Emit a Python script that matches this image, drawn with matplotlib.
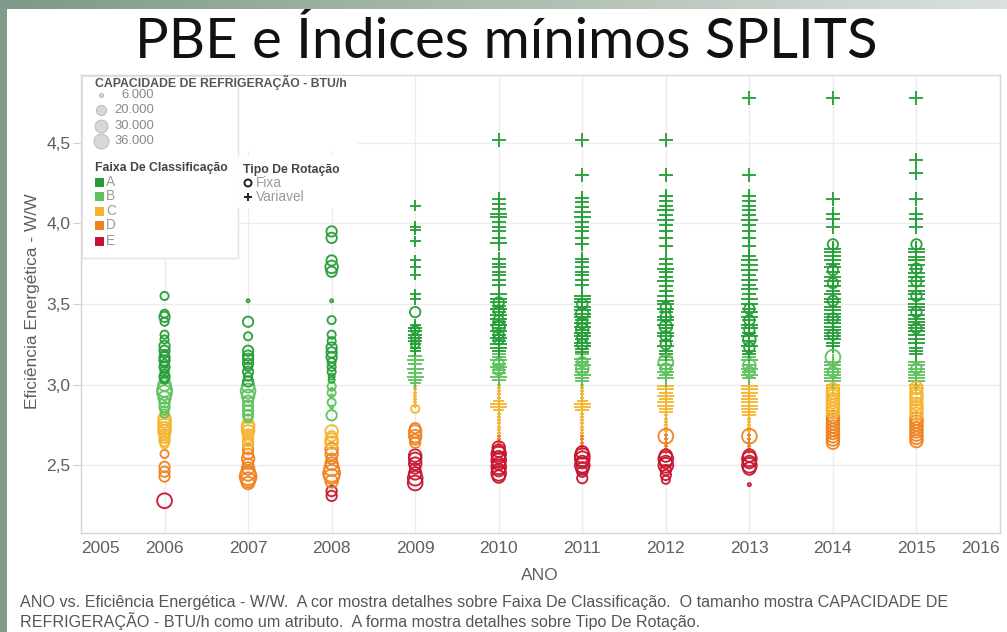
import numpy as np
import matplotlib
matplotlib.use("Agg")
import matplotlib.pyplot as plt
from matplotlib.patches import Rectangle

W, H = 1007, 632

# ---------------- data ----------------
TITLE = "PBE e Índices mínimos SPLITS"
X_TICKS = list(range(2005, 2017))
Y_TICKS = [2.5, 3.0, 3.5, 4.0, 4.5]
Y_TICK_LABELS = ["2,5", "3,0", "3,5", "4,0", "4,5"]
FAIXAS = ["A", "B", "C", "D", "E"]
CAP_LEGEND = [6000, 20000, 30000, 36000]
CAP_LEGEND_LABELS = ["6.000", "20.000", "30.000", "36.000"]

# Fixa (circles): year -> [(efficiency W/W, capacity BTU/h), ...]
FIXA_A = {
    2006: [(3.55, 18000), (3.44, 18000), (3.42, 24000), (3.39, 18000), (3.31, 18000), (3.28, 18000),
           (3.24, 24000), (3.21, 24000), (3.19, 18000), (3.17, 24000), (3.15, 24000), (3.13, 18000),
           (3.11, 24000), (3.09, 18000), (3.07, 18000), (3.05, 24000), (3.03, 18000)],
    2007: [(3.52, 4000), (3.39, 24000), (3.30, 18000), (3.21, 24000), (3.18, 24000), (3.16, 24000),
           (3.13, 24000), (3.11, 18000), (3.08, 24000), (3.05, 18000), (3.02, 24000)],
    2008: [(3.95, 24000), (3.91, 24000), (3.77, 24000), (3.73, 30000), (3.70, 24000), (3.52, 4000),
           (3.40, 18000), (3.31, 18000), (3.27, 18000), (3.23, 24000), (3.20, 24000), (3.17, 24000),
           (3.14, 18000), (3.11, 18000), (3.08, 18000), (3.05, 12000), (3.03, 12000)],
    2009: [(3.45, 24000), (3.34, 18000), (3.29, 18000), (3.25, 18000)],
    2010: [(3.51, 24000), (3.46, 24000), (3.40, 24000), (3.36, 30000), (3.31, 24000), (3.28, 24000)],
    2011: [(3.50, 24000), (3.44, 30000), (3.38, 24000), (3.34, 30000), (3.29, 24000), (3.25, 24000)],
    2012: [(3.48, 24000), (3.42, 24000), (3.36, 30000), (3.30, 24000), (3.25, 24000)],
    2013: [(3.47, 24000), (3.40, 24000), (3.34, 24000), (3.28, 30000), (3.23, 24000)],
    2014: [(3.87, 24000), (3.71, 24000), (3.63, 24000), (3.52, 24000), (3.41, 24000), (3.31, 24000)],
    2015: [(3.87, 24000), (3.72, 24000), (3.64, 24000), (3.55, 24000), (3.45, 24000), (3.35, 24000)],
}
FIXA_B = {
    2006: [(3.00, 30000), (2.97, 36000), (2.95, 36000), (2.92, 30000), (2.89, 24000), (2.86, 24000),
           (2.84, 18000), (2.82, 18000)],
    2007: [(2.99, 30000), (2.96, 36000), (2.93, 30000), (2.90, 24000), (2.87, 24000), (2.84, 24000),
           (2.81, 24000), (2.79, 18000)],
    2008: [(2.99, 18000), (2.97, 4000), (2.95, 18000), (2.93, 4000), (2.89, 18000), (2.86, 4000),
           (2.81, 24000)],
    2010: [(3.13, 24000), (3.09, 24000)],
    2011: [(3.14, 24000), (3.10, 30000)],
    2012: [(3.14, 36000), (3.10, 24000)],
    2013: [(3.12, 30000), (3.08, 24000)],
    2014: [(3.17, 36000), (3.08, 24000)],
    2015: [(3.10, 24000)],
}
FIXA_C = {
    2006: [(2.79, 30000), (2.77, 30000), (2.75, 30000), (2.73, 30000), (2.71, 30000), (2.69, 24000),
           (2.67, 24000), (2.65, 24000), (2.63, 18000)],
    2007: [(2.75, 30000), (2.73, 30000), (2.71, 30000), (2.69, 24000), (2.67, 24000), (2.65, 24000),
           (2.63, 24000)],
    2008: [(2.71, 30000), (2.68, 24000), (2.66, 30000), (2.64, 30000)],
    2009: [(2.85, 18000)],
    2014: [(2.97, 30000), (2.95, 30000), (2.93, 30000), (2.91, 30000), (2.89, 30000), (2.87, 30000),
           (2.85, 30000), (2.83, 30000)],
    2015: [(2.98, 30000), (2.95, 30000), (2.93, 30000), (2.91, 30000), (2.88, 30000), (2.86, 30000),
           (2.84, 30000), (2.82, 30000)],
}
FIXA_D = {
    2006: [(2.57, 18000), (2.49, 24000), (2.46, 24000), (2.43, 24000)],
    2007: [(2.60, 24000), (2.57, 24000), (2.54, 30000), (2.51, 24000), (2.48, 30000), (2.45, 36000),
           (2.43, 42000), (2.41, 36000), (2.39, 30000)],
    2008: [(2.60, 30000), (2.57, 30000), (2.54, 24000), (2.51, 30000), (2.48, 36000), (2.45, 42000),
           (2.43, 36000), (2.40, 30000)],
    2009: [(2.73, 24000), (2.71, 30000), (2.68, 30000), (2.66, 24000), (2.64, 24000)],
    2012: [(2.68, 36000)],
    2013: [(2.68, 36000)],
    2014: [(2.80, 30000), (2.78, 30000), (2.76, 30000), (2.74, 30000), (2.72, 30000), (2.70, 30000),
           (2.68, 30000), (2.66, 30000), (2.64, 30000)],
    2015: [(2.79, 30000), (2.77, 30000), (2.75, 30000), (2.73, 30000), (2.71, 30000), (2.69, 30000),
           (2.67, 30000), (2.65, 30000)],
}
FIXA_E = {
    2006: [(2.28, 36000)],
    2008: [(2.34, 24000), (2.31, 24000)],
    2009: [(2.56, 30000), (2.54, 30000), (2.51, 30000), (2.48, 24000), (2.45, 30000), (2.42, 36000),
           (2.39, 36000)],
    2010: [(2.61, 30000), (2.59, 30000), (2.57, 36000), (2.55, 30000), (2.53, 36000), (2.51, 30000),
           (2.49, 36000), (2.47, 30000), (2.45, 36000), (2.43, 30000)],
    2011: [(2.58, 30000), (2.56, 36000), (2.54, 36000), (2.52, 30000), (2.50, 36000), (2.48, 30000),
           (2.46, 24000), (2.42, 24000)],
    2012: [(2.56, 30000), (2.54, 36000), (2.52, 30000), (2.50, 36000), (2.47, 24000), (2.44, 24000),
           (2.41, 18000)],
    2013: [(2.56, 30000), (2.54, 36000), (2.52, 30000), (2.50, 36000), (2.48, 30000), (2.38, 4000)],
}

# Variavel (plus): year -> [(efficiency W/W, capacity BTU/h), ...]
VAR_A = {
    2009: [(4.11, 18000), (3.98, 18000), (3.96, 18000), (3.89, 18000), (3.77, 18000), (3.73, 18000),
           (3.68, 18000), (3.56, 18000), (3.53, 18000), (3.37, 18000), (3.35, 24000), (3.33, 24000),
           (3.31, 24000), (3.29, 24000), (3.27, 24000), (3.25, 18000), (3.23, 18000), (3.21, 18000)],
    2010: [(4.52, 24000), (4.15, 24000), (4.12, 24000), (4.09, 24000), (4.06, 30000), (4.04, 30000),
           (4.01, 24000), (3.98, 24000), (3.95, 24000), (3.91, 24000), (3.88, 30000), (3.78, 24000),
           (3.75, 24000), (3.73, 24000), (3.70, 24000), (3.68, 24000), (3.65, 24000), (3.62, 24000),
           (3.56, 30000), (3.53, 30000), (3.51, 30000), (3.49, 24000), (3.47, 30000), (3.45, 24000),
           (3.43, 30000), (3.41, 30000), (3.39, 24000), (3.37, 30000), (3.35, 24000), (3.33, 30000),
           (3.31, 24000), (3.29, 30000), (3.27, 24000), (3.25, 30000), (3.23, 30000), (3.21, 24000)],
    2011: [(4.52, 24000), (4.30, 24000), (4.16, 24000), (4.13, 24000), (4.10, 24000), (4.07, 30000),
           (4.04, 30000), (4.01, 24000), (3.98, 24000), (3.95, 24000), (3.91, 24000), (3.87, 24000),
           (3.78, 24000), (3.76, 24000), (3.73, 24000), (3.70, 24000), (3.68, 24000), (3.65, 24000),
           (3.62, 24000), (3.55, 30000), (3.53, 30000), (3.51, 30000), (3.48, 30000), (3.46, 30000),
           (3.44, 30000), (3.42, 30000), (3.40, 24000), (3.38, 30000), (3.36, 30000), (3.34, 24000),
           (3.32, 30000), (3.30, 30000), (3.28, 24000), (3.26, 30000), (3.24, 30000), (3.22, 24000),
           (3.20, 24000)],
    2012: [(4.52, 24000), (4.30, 24000), (4.17, 24000), (4.14, 24000), (4.11, 24000), (4.08, 30000),
           (4.05, 24000), (4.02, 30000), (3.99, 24000), (3.95, 24000), (3.91, 24000), (3.86, 24000),
           (3.78, 24000), (3.75, 24000), (3.72, 30000), (3.70, 24000), (3.67, 24000), (3.64, 30000),
           (3.61, 24000), (3.58, 24000), (3.55, 30000), (3.52, 30000), (3.50, 30000), (3.47, 30000),
           (3.45, 24000), (3.42, 30000), (3.40, 30000), (3.37, 30000), (3.35, 24000), (3.32, 30000),
           (3.30, 30000), (3.27, 24000), (3.24, 30000), (3.21, 24000), (3.19, 24000)],
    2013: [(4.78, 24000), (4.30, 24000), (4.17, 24000), (4.14, 24000), (4.11, 24000), (4.08, 24000),
           (4.05, 24000), (4.02, 30000), (3.99, 24000), (3.95, 24000), (3.91, 24000), (3.86, 24000),
           (3.80, 24000), (3.77, 30000), (3.74, 30000), (3.71, 30000), (3.68, 24000), (3.65, 30000),
           (3.62, 24000), (3.59, 30000), (3.56, 24000), (3.53, 30000), (3.50, 30000), (3.47, 24000),
           (3.45, 30000), (3.42, 30000), (3.40, 24000), (3.37, 30000), (3.35, 30000), (3.32, 24000),
           (3.30, 30000), (3.27, 24000), (3.24, 30000), (3.21, 24000), (3.19, 24000)],
    2014: [(4.78, 24000), (4.15, 24000), (4.06, 24000), (4.03, 24000), (3.98, 24000), (3.84, 30000),
           (3.82, 30000), (3.80, 30000), (3.77, 30000), (3.75, 24000), (3.73, 30000), (3.70, 24000),
           (3.67, 30000), (3.64, 30000), (3.61, 30000), (3.58, 24000), (3.56, 30000), (3.53, 30000),
           (3.51, 30000), (3.48, 30000), (3.46, 30000), (3.44, 30000), (3.42, 30000), (3.40, 30000),
           (3.38, 30000), (3.36, 30000), (3.34, 30000), (3.32, 30000), (3.30, 30000), (3.28, 30000),
           (3.26, 24000), (3.24, 24000)],
    2015: [(4.78, 24000), (4.39, 24000), (4.31, 24000), (4.15, 24000), (4.06, 24000), (4.03, 24000),
           (3.98, 24000), (3.84, 30000), (3.82, 30000), (3.79, 30000), (3.77, 30000), (3.74, 30000),
           (3.72, 24000), (3.69, 30000), (3.67, 30000), (3.64, 30000), (3.61, 30000), (3.58, 30000),
           (3.56, 30000), (3.53, 30000), (3.50, 30000), (3.48, 30000), (3.46, 30000), (3.43, 30000),
           (3.41, 30000), (3.39, 30000), (3.37, 30000), (3.35, 30000), (3.33, 30000), (3.31, 30000),
           (3.28, 30000), (3.26, 30000), (3.23, 24000), (3.21, 24000), (3.19, 24000)],
}
VAR_B = {
    2009: [(3.18, 24000), (3.15, 30000), (3.13, 24000), (3.10, 30000), (3.07, 24000), (3.05, 30000),
           (3.03, 24000), (3.01, 18000)],
    2010: [(3.19, 24000), (3.17, 24000), (3.15, 30000), (3.13, 24000), (3.11, 30000), (3.09, 24000),
           (3.07, 24000), (3.05, 30000), (3.03, 24000)],
    2011: [(3.19, 24000), (3.16, 30000), (3.14, 24000), (3.12, 30000), (3.10, 24000), (3.08, 24000),
           (3.06, 30000), (3.04, 24000), (3.02, 24000)],
    2012: [(3.17, 24000), (3.15, 24000), (3.12, 30000), (3.10, 24000), (3.08, 30000), (3.06, 24000),
           (3.04, 30000)],
    2013: [(3.17, 24000), (3.15, 30000), (3.12, 24000), (3.10, 30000), (3.08, 24000), (3.06, 30000),
           (3.04, 24000)],
    2014: [(3.14, 30000), (3.12, 30000), (3.10, 30000), (3.08, 30000), (3.06, 30000), (3.04, 30000),
           (3.02, 30000)],
    2015: [(3.14, 30000), (3.12, 30000), (3.10, 30000), (3.08, 30000), (3.06, 30000), (3.04, 30000),
           (3.02, 30000)],
}
VAR_C = {
    2009: [(2.99, 4000), (2.97, 4000), (2.95, 4000), (2.93, 4000), (2.91, 4000), (2.89, 4000),
           (2.87, 4000)],
    2010: [(3.00, 4000), (2.98, 4000), (2.96, 4000), (2.94, 4000), (2.92, 4000), (2.90, 18000),
           (2.88, 30000), (2.86, 30000), (2.84, 18000), (2.82, 4000), (2.80, 4000), (2.78, 4000),
           (2.76, 4000), (2.74, 4000), (2.72, 4000), (2.70, 4000)],
    2011: [(3.00, 4000), (2.98, 4000), (2.96, 4000), (2.94, 4000), (2.92, 4000), (2.90, 18000),
           (2.88, 30000), (2.86, 30000), (2.84, 24000), (2.82, 4000), (2.80, 4000), (2.78, 4000),
           (2.76, 4000), (2.74, 4000), (2.72, 4000), (2.70, 4000)],
    2012: [(2.99, 30000), (2.97, 30000), (2.95, 24000), (2.93, 30000), (2.91, 24000), (2.89, 30000),
           (2.87, 30000), (2.85, 24000), (2.83, 24000), (2.81, 4000), (2.79, 4000), (2.77, 4000),
           (2.75, 4000), (2.73, 4000), (2.71, 4000)],
    2013: [(2.99, 30000), (2.97, 30000), (2.95, 30000), (2.93, 24000), (2.91, 30000), (2.89, 30000),
           (2.87, 30000), (2.85, 30000), (2.83, 24000), (2.81, 24000), (2.79, 4000), (2.77, 4000),
           (2.75, 4000), (2.73, 4000), (2.71, 4000)],
    2014: [(3.00, 24000), (2.98, 24000)],
    2015: [(3.00, 24000), (2.98, 24000)],
}
VAR_D = {
    2010: [(2.68, 4000), (2.66, 4000), (2.64, 4000), (2.62, 4000)],
    2011: [(2.68, 4000), (2.66, 4000), (2.64, 4000), (2.62, 4000), (2.60, 4000)],
    2012: [(2.69, 4000), (2.66, 4000), (2.64, 4000), (2.62, 4000), (2.60, 4000), (2.58, 4000)],
    2013: [(2.69, 4000), (2.66, 4000), (2.64, 4000), (2.62, 4000), (2.60, 4000), (2.58, 4000)],
}
VAR_E = {}

FIXA = {"A": FIXA_A, "B": FIXA_B, "C": FIXA_C, "D": FIXA_D, "E": FIXA_E}
VAR = {"A": VAR_A, "B": VAR_B, "C": VAR_C, "D": VAR_D, "E": VAR_E}

# ---------------- style ----------------
CORES = {"A": "#259e37", "B": "#5ec25c", "C": "#f5b52e", "D": "#f0821f", "E": "#c8142f"}


def diam_px(cap):
    return 1.6 + 0.000365 * np.asarray(cap, dtype=float)


fig = plt.figure(figsize=(W / 100, H / 100), dpi=100)
fig.patch.set_facecolor("white")

# main axes (pixel geometry)
L, R, T, B = 81, 1000, 75, 533
ax = fig.add_axes([L / W, 1 - B / H, (R - L) / W, (B - T) / H])
ax.set_xlim(2005, 2016)
ax.set_ylim(2.08, 4.92)

for spine in ax.spines.values():
    spine.set_color("#d6d6d6")
    spine.set_linewidth(1.0)
ax.set_yticks(Y_TICKS)
ax.set_yticklabels(Y_TICK_LABELS)
ax.set_xticks(X_TICKS)
ax.set_xticklabels([str(x) for x in X_TICKS])
ax.grid(True, color="#ececec", linewidth=1.0)
ax.set_axisbelow(True)
ax.tick_params(axis="y", length=6, color="#cfcfcf", labelcolor="#5f5f5f",
               labelsize=12.5, pad=1.5)
ax.tick_params(axis="x", length=0, labelcolor="#5f5f5f", labelsize=12.5, pad=6)
for fam_lab in ax.get_xticklabels() + ax.get_yticklabels():
    fam_lab.set_fontfamily("Liberation Sans")
xl = ax.get_xticklabels()
xl[0].set_horizontalalignment("left")
xl[-1].set_horizontalalignment("right")

# marks
for f in ["E", "D", "C", "B", "A"]:
    xs, ys, cs = [], [], []
    for ano, pts in VAR[f].items():
        for v, c in pts:
            xs.append(ano); ys.append(v); cs.append(c)
    if xs:
        d = diam_px(cs) * 1.35 * 0.72
        ax.scatter(xs, ys, s=d ** 2, marker="+", color=CORES[f], linewidths=1.4,
                   alpha=0.95, zorder=3)
for f in ["E", "D", "C", "B", "A"]:
    xs, ys, cs = [], [], []
    for ano, pts in FIXA[f].items():
        for v, c in pts:
            xs.append(ano); ys.append(v); cs.append(c)
    if xs:
        d = diam_px(cs) * 0.72
        ax.scatter(xs, ys, s=d ** 2, marker="o", facecolors="none", edgecolors=CORES[f],
                   linewidths=1.35, alpha=0.95, zorder=4)

# ---------------- overlay (pixel coordinates) ----------------
ov = fig.add_axes([0, 0, 1, 1], zorder=10)
ov.axis("off")
ov.patch.set_alpha(0)

# slide decoration
grad = np.linspace(0, 1, 256)
c0 = np.array([0.49, 0.60, 0.53])
c1 = np.array([0.86, 0.88, 0.86])
band = (c0[None, :] * (1 - grad[:, None]) + c1[None, :] * grad[:, None])[None, :, :]
ov.imshow(band, extent=(0, W, 9, 0), aspect="auto", zorder=0)
ov.add_patch(Rectangle((0, 0), 7, H, color="#7e9c88", lw=0))
ov.set_xlim(0, W)
ov.set_ylim(H, 0)

fig.text(506 / W, 1 - 42 / H, TITLE, ha="center", va="center", fontsize=40.5,
         family="Lato", color="#111111")

# legend backgrounds
ov.add_patch(Rectangle((L + 1, T + 1), 276, 75, facecolor="white", edgecolor="none", zorder=1))
ov.add_patch(Rectangle((L + 1, T + 1), 156, 182, facecolor="white", edgecolor="#e2e2e2",
                       lw=1, zorder=1))
ov.add_patch(Rectangle((238, 156), 110, 52, facecolor="white", edgecolor="none", zorder=1))

TXT = dict(family="Liberation Sans", va="center")
ov.text(95, 82, "CAPACIDADE DE REFRIGERAÇÃO - BTU/h", fontsize=8.8, weight="bold",
        color="#555555", **TXT)
for cap, lab, yy in zip(CAP_LEGEND, CAP_LEGEND_LABELS, [95, 110, 126, 141]):
    dd = np.interp(cap, [6000, 20000, 30000, 36000], [4.0, 10.0, 12.7, 14.7]) * 0.72
    ov.scatter([101], [yy], s=dd ** 2, marker="o", facecolor="#d8d8d8", edgecolor="#bdbdbd",
               linewidths=0.8, zorder=2)
    ov.text(154, yy, lab, fontsize=9.4, color="#8a8a8a", ha="right", **TXT)

ov.text(95, 168, "Faixa De Classificação", fontsize=8.8, weight="bold", color="#444444", **TXT)
for f, yy in zip(FAIXAS, [182, 196, 211, 225, 241]):
    ov.add_patch(Rectangle((95, yy - 4.5), 9, 9, color=CORES[f], lw=0, zorder=2))
    ov.text(106, yy, f, fontsize=9.8, color="#9a9a9a", **TXT)

ov.text(243, 170, "Tipo De Rotação", fontsize=8.8, weight="bold", color="#444444", **TXT)
ov.scatter([248], [183], s=(7 * 0.72) ** 2, marker="o", facecolor="none", edgecolor="#222222",
           linewidths=1.4, zorder=2)
ov.text(256, 183, "Fixa", fontsize=9.8, color="#9a9a9a", **TXT)
ov.scatter([248], [197], s=(8 * 0.72) ** 2, marker="+", color="#222222", linewidths=1.4, zorder=2)
ov.text(256, 197, "Variavel", fontsize=9.8, color="#9a9a9a", **TXT)

# axis titles
fig.text(33 / W, 1 - 301 / H, "Eficiência Energética - W/W", rotation=90, ha="center",
         va="center", fontsize=12.5, color="#5f5f5f", family="Liberation Sans")
fig.text(540 / W, 1 - 575 / H, "ANO", ha="center", va="center", fontsize=12.5,
         color="#5f5f5f", family="Liberation Sans")

CAP1 = ("ANO vs. Eficiência Energética - W/W.  A cor mostra detalhes sobre Faixa De Classificação.  "
        "O tamanho mostra CAPACIDADE DE")
CAP2 = ("REFRIGERAÇÃO - BTU/h como um atributo.  A forma mostra detalhes sobre Tipo De Rotação.")
fig.text(20 / W, 1 - 603 / H, CAP1, ha="left", va="center", fontsize=11.6, color="#555555",
         family="Liberation Sans")
fig.text(20 / W, 1 - 621 / H, CAP2, ha="left", va="center", fontsize=11.6, color="#555555",
         family="Liberation Sans")

fig.savefig("out.png", dpi=100, facecolor="white")
